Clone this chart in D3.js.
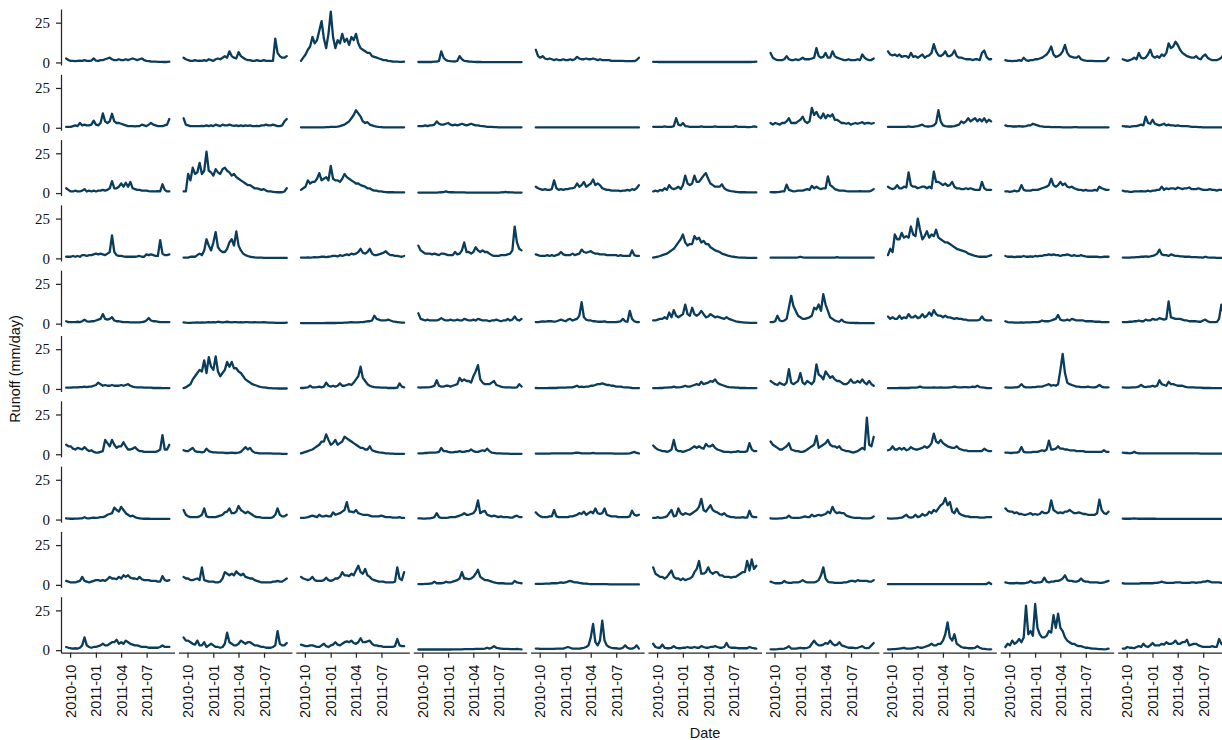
<!DOCTYPE html>
<html>
<head>
<meta charset="utf-8">
<script src="https://cdn.jsdelivr.net/npm/d3@7"></script>
<style>
  body { margin: 0; background: #fff; }
  svg { display: block; }
</style>
</head>
<body>
<svg id="chart"></svg>
<script>
const startDay = "2010-09-17";
const endDay = "2011-09-20";
const monthTicks = ["2010-10", "2011-01", "2011-04", "2011-07"];
const yTicks = [0, 25];

// runoff (mm/day), one array per grid row, ten series per row
const row1 = [
  [2.5,1.5,1,1,0.8,1,1.2,1,1.5,1,1,1.2,2.5,1.2,1,1.5,1.5,2,2.5,3,2,1.5,1.5,2,1.5,1.5,2,1.5,2,2.5,2,1.5,2,2.5,1.5,1,0.8,0.6,0.5,0.5,0.4,0.4,0.3,0.3,0.3,0.5],
  [3,2,1.5,1,1,1.5,1,1.2,1,1.5,1,2,1.5,1,2,2.5,2,3,4,3,7,4,3,2.5,6.5,4,3,2,1.5,1.5,1,1,1.5,1,1,1.5,1,1,1,1,15,6,4,3,3,4],
  [1,3,5,8,10,16,12,14,20,26,15,9,18,32,16,9,14,12,18,13,15,11,16,14,18,12,9,8,7,6,6,4,3.5,3,2.5,2,1.5,1.5,1,0.8,0.6,0.5,0.5,0.4,0.4,0.5],
  [0.3,0.3,0.3,0.3,0.3,0.3,0.3,0.5,0.5,1,7,3,1.5,1,0.8,0.7,0.6,1,4,2,1,0.8,0.6,0.5,0.4,0.3,0.3,0.3,0.2,0.2,0.2,0.2,0.2,0.2,0.2,0.2,0.2,0.2,0.2,0.2,0.2,0.2,0.2,0.2,0.2,0.2],
  [8,4,3,4,2.5,2,2.5,2,1.5,2,1.5,1.5,2,1.5,1.5,2,1.5,2,3.5,2.5,2,2,2.5,2,2,2.5,2,1.5,2,1.5,1.5,1.5,1.5,1,1,1,1,1,1,0.8,0.8,0.8,0.8,0.8,1.5,3],
  [0.4,0.4,0.3,0.3,0.3,0.3,0.3,0.3,0.3,0.3,0.3,0.3,0.3,0.3,0.3,0.3,0.3,0.3,0.3,0.3,0.3,0.3,0.3,0.3,0.3,0.3,0.3,0.3,0.3,0.3,0.3,0.3,0.3,0.3,0.3,0.3,0.3,0.3,0.3,0.3,0.3,0.3,0.3,0.3,0.4,0.5],
  [6,3,2,1.5,1.5,1.5,2,4,2,1.5,1.5,2,1.5,2,3,2,2,2,2.5,3,9,4,3,3.5,6,3,3,7,4,3,2.5,2,1.5,1.5,2,1.5,1.5,1.5,2,1.5,5,3,2,1.5,1.5,2.5],
  [7,5,4.5,5,4,5,3.5,4,4,3,6,3.5,4,3,4,5,3,4,4.5,6,11.5,7,4.5,4,5,7,4,4,5,7.5,4,3,3,2.5,2,2,2,1.5,2,2,1.5,6,7.5,3.5,2,2],
  [1.5,1,1,0.8,1,1,1.5,1,3,1.5,1,1.5,1.5,2,2,2.5,3,4,5,7,10,5,3.5,4,5,7,11,6,4,3.5,3,3,4,2,1.5,1.2,1,1,1,0.8,0.8,0.8,0.8,0.8,1.2,3],
  [2,1.5,1,1.5,2,3,2,6,3,2.5,3,5,8,4,3,4,3,5,4,6,12,9,10,13,11,8,6,5,4,3.5,3,3,4,2.5,2,4,5,3,2,1.5,1.5,1.5,2,3,5,8]
];
const row2 = [
  [0.5,0.5,0.5,1,1.5,1,3,1.5,2,1.5,1.5,2,4.5,2,1.5,3,9,4,3,4,8.8,4,3,3,2.5,2,1.5,1,1,1,0.8,1,1,2,1.5,1,2,3,2,1.5,1,1,1,1.5,2,5.5],
  [6,2,1.5,1,1,1,1,1,1.2,1,1.5,1,1.5,1,2,1.5,1,2,1.5,1.5,2,1.5,1.2,1.5,1,1.5,1,1.5,1.2,1.5,1,1,1.2,1,1.5,1.5,2,1.5,1.5,2,1.5,1,1,1.5,4,5.5],
  [0.3,0.3,0.3,0.3,0.3,0.3,0.3,0.3,0.3,0.3,0.3,0.4,0.4,0.5,0.5,0.6,0.7,1,1.5,2,3,4,6,8,11,9,7,4,3,3.5,2,1.5,1,0.7,0.5,0.4,0.3,0.3,0.3,0.3,0.3,0.3,0.3,0.3,0.3,0.3],
  [1,1,1,1.5,1,1.5,1.5,2,4,2.5,2,2,2.5,3,2,1.5,2,1.5,2,2.5,2,1.5,2,2.5,2,1.5,1.5,1.2,1,0.8,0.6,0.5,0.5,0.4,0.4,0.3,0.3,0.3,0.3,0.3,0.3,0.3,0.3,0.3,0.3,0.3],
  [0.2,0.2,0.2,0.2,0.2,0.2,0.2,0.2,0.2,0.2,0.2,0.2,0.2,0.2,0.2,0.2,0.2,0.2,0.2,0.2,0.2,0.2,0.2,0.2,0.2,0.2,0.2,0.2,0.2,0.2,0.2,0.2,0.2,0.2,0.2,0.2,0.2,0.2,0.2,0.2,0.2,0.2,0.2,0.2,0.2,0.2],
  [0.6,0.6,0.5,0.5,0.6,0.8,0.6,0.5,0.6,1,6,2,1.5,3,1,0.8,0.6,0.6,0.5,0.5,0.6,0.8,0.6,0.5,0.5,0.6,0.5,0.8,0.6,0.5,0.5,0.5,0.5,0.6,0.5,0.5,1,0.5,0.5,0.5,0.5,0.4,0.4,0.5,0.8,0.5],
  [3,2,3,2.5,2,3,3,4,6,3,3,3,4,5,7,4,3,4,12.5,8,10,7,6,9,6,8,7,8.5,5,5,4,3,3,2.5,3,2,2.5,3,2.5,3,3.5,2.5,3,3,2.5,3],
  [0.5,0.5,0.5,0.5,0.5,0.6,0.5,0.5,0.6,0.8,0.6,0.6,0.8,1,1.5,2,1,0.8,0.8,1,1.5,3,11,4,1.5,1,0.8,0.8,0.8,1,1.5,2,4,3,4,6,4,5,6,4,5.5,4,6,3.5,5,4],
  [1.5,1,1,0.8,0.8,0.8,1,0.8,0.8,1,1.5,1.5,2.5,2,1.5,1,0.8,0.6,0.5,0.5,0.4,0.4,0.4,0.4,0.4,0.3,0.3,0.3,0.3,0.3,0.4,0.4,0.3,0.3,0.3,0.3,0.3,0.3,0.3,0.3,0.3,0.3,0.3,0.3,0.3,0.3],
  [1,0.8,0.8,0.6,0.8,1,1,1.5,2,1.5,7,3,2.5,5,2.5,2,1.5,2,2.5,1.5,2,1.5,1.5,1.2,1.5,1.2,1,1,1,0.8,0.6,0.5,0.5,0.4,0.4,0.3,0.3,0.3,0.3,0.3,0.3,0.3,0.3,0.3,0.3,0.3]
];
const row3 = [
  [3,2,1,1,1.5,1,1,1.5,2.5,1,1.5,1,1.5,1,1.5,1.5,2,1.5,2,3,7.5,3,3,4,6,4,6.5,4,7,3,2.5,2,2,1.5,1.5,1.5,1.2,1,1,1,1.2,1,5.5,2,1,1],
  [1,1,12,8,16,12,13,19,12,14,26,14,13,11,15,13,12,15,16,14,13,11,12,10,9,8,7,6,5,5,4,3,3,2.5,2,2.5,1.5,1,1,0.8,0.6,0.5,0.5,0.5,1,3],
  [2,3,4,8,6,7,7,9,12.5,8,9,10,8,17,9,8,8,7,9,12,10,9,8,7,6,6,5,4.5,4,3,3,2,1.5,1.5,1,1,0.8,0.6,0.5,0.5,0.5,0.4,0.4,0.4,0.4,0.4],
  [0.3,0.3,0.3,0.3,0.3,0.3,0.3,0.3,0.3,0.4,0.5,0.6,1,0.6,0.5,0.5,0.4,0.4,0.4,0.4,0.4,0.3,0.3,0.3,0.3,0.3,0.3,0.3,0.3,0.3,0.3,0.3,0.3,0.3,0.3,0.3,0.4,0.5,0.8,0.5,0.4,0.4,0.3,0.3,0.3,0.3],
  [4,3,2.5,2,2.5,2,2,2.5,8,3,2,2.5,2,2.5,2.5,3,3,3.5,6,4,5,7,4,5,6,8.5,5,6,5,3,2.5,2,2,1.5,1.5,1.5,1.5,1.2,1.5,1.5,2,1.5,2.5,2,3,5],
  [1,1.5,1,2,1.5,3,2,5,3,2.5,3,4,2.5,5,11,6,5,6,11,7,7,9,11,12.5,9,6,5,4,4,4,5.5,3,2,1.5,1.2,1,0.8,0.6,0.5,0.5,0.5,0.4,0.4,0.4,0.4,0.4],
  [0.6,0.5,0.5,0.6,0.8,1,1,5.3,2,1.5,1,1.2,1.5,1.5,1.5,2,2.5,2,4.5,3,4,3,2.5,3,3,10.5,5,4,2.5,2,1.5,1.5,1.5,1.2,1,1,1,1,1,1.2,1,1,1,1,1.5,2.5],
  [4,3,2.5,3,5,3,3,4,3.5,13,5,4,4,3,3.5,4,4,3,4,3,13.5,7,7,6,5,6,4.5,5,7,4,3,3,2.5,2.5,3,2.5,3,2.5,2,2,2,7,3,2,2,2],
  [1,1,0.8,1,1.5,1,1.5,5,2,1.5,1.5,1.5,2,2,2,2.5,3,3.5,4,5,9,5,4,5,7,5,6,4,3.5,4,3,2.5,2,2,1.5,2,1.5,1.5,1.5,2,1.5,4,3,2.5,2,2],
  [1.5,1,1,0.8,0.8,1,1,1,1.2,1,1,1.5,1,1.5,1.5,2,2,4,2,3,2.5,3,3,2.5,3.5,3,2.5,3,3,3.5,2.5,2.5,2.5,3,2.5,2,2,2,2.5,2,2,1.5,2,2,2,2]
];
const row4 = [
  [1,1,1,1.5,1,1.5,1,2,2,1.5,2,2,2.5,3,2.5,3,2.5,2,3,4,14.5,4,2,1.5,1.5,1.2,1,1,1,1,1,1.2,1.5,1,1,2.5,2,2.5,2,1.5,1.5,11.5,3,2,2,2.5],
  [0.5,0.5,0.5,1,1,1,2,3,2,5,12,8,5,10,16.5,7,5,4,4,6,10,12,8,17,8,5,3,2,1.5,1,0.8,0.6,0.5,0.5,0.4,0.3,0.3,0.3,0.3,0.3,0.3,0.3,0.3,0.3,0.3,0.3],
  [0.5,0.5,0.5,0.6,0.5,0.6,0.8,0.6,0.8,1,1,0.8,1,1.2,1.5,1.5,1.2,2,1.5,2,2.5,2,3,2.5,3,4,6,3.5,3,4,6,3,2,2,2.5,3,3.5,4.5,3,2,2,1.5,1.5,1.2,1,1.5],
  [8,5,4,3,3,3,2.5,3,2.5,2,3,3,2.5,2,2,2,4,2.5,3,5,10,4,4,3,4,7,5,4,5,4,4,3,2,1.5,1.5,1.5,2,2,2,2.5,3,5,20,10,6,5],
  [2.5,2,1.5,1.5,1.5,2,1.5,2,1.5,2,2.5,4,2.5,2,2,2,3,2,2.5,3,5.5,4,3.5,4,4.5,3.5,3,3,2.5,2.5,2.5,2,2,2,2,2,1.5,2,1.5,1.5,1.5,1.5,5,2,1.5,1.5],
  [0.5,0.8,1,1.5,2,2.5,3,4,5,6,8,10,12,15,10,8,9,9,14,12,13,10,11,9,9,7,6,5,4.5,4,3,2.5,2,1.5,1.2,1,0.8,0.6,0.5,0.4,0.4,0.3,0.3,0.3,0.3,0.3],
  [0.4,0.4,0.4,0.4,0.4,0.4,0.4,0.4,0.4,0.4,0.5,0.5,0.6,1,0.6,0.5,0.5,0.4,0.4,0.4,0.4,0.4,0.4,0.4,0.4,0.4,0.4,0.4,0.5,0.8,0.5,0.4,0.4,0.4,0.4,0.4,0.4,0.4,0.4,0.4,0.4,0.4,0.4,0.4,0.4,0.4],
  [2,6,4,15,12,12,16,13,14,13,20,15,14,25,18,12,14,17,13,15,14,18,13,12,11,10,10,9,8,7,6,5.5,5,4.5,4,3,2.5,2,1.5,1.2,1,1,1,1,1.5,2],
  [1.5,1,1,1,0.8,1,1,1,1.5,1,1,1.2,1,1.5,1.2,1.5,1.5,2,2,2.5,2,2.5,2,2,1.5,2,2,2.5,2,1.5,2,1.5,1.5,2,1.5,1.2,1,1,1,1,1,0.8,0.8,1,1,1],
  [0.5,0.5,0.5,0.5,0.6,0.6,0.8,0.8,1,1,1.2,1,1.2,1.5,2,3,5.5,2.5,2,2,1.5,2.5,2,1.5,1.5,1.2,1.2,1,1,1,0.8,0.8,0.8,0.6,0.6,0.5,1,0.6,0.5,0.4,0.4,0.3,0.3,0.3,0.3,0.3]
];
const row5 = [
  [1.5,1,1,1,1,1.2,1,1.5,2.5,1.5,1.2,1.5,1.5,2,2.5,3,6,3,2.5,3,4,2,1.5,1.5,1.2,1,1,1,0.8,0.8,0.8,0.8,0.8,1,1.2,2,3.5,2,1.5,1.5,1.2,1,1,1,1,1],
  [0.8,0.6,0.5,0.5,0.6,0.6,0.8,0.6,0.8,0.6,0.8,1,0.8,1,0.8,1.2,1,0.8,1,1.2,1,0.8,1,1,0.8,1,0.8,1,1,0.8,0.8,1,0.8,0.8,0.8,1,0.8,0.6,0.6,0.6,0.5,0.5,0.5,0.5,0.5,0.6],
  [0.3,0.3,0.3,0.3,0.3,0.3,0.3,0.3,0.3,0.3,0.3,0.4,0.4,0.4,0.4,0.4,0.5,0.5,0.5,0.6,0.6,0.8,1,0.8,0.8,0.8,1,1,1.2,1.5,1.5,2,5,3,2.5,2,2,2,2.5,2,1.5,1.2,1,0.8,0.6,0.6],
  [6.5,3,2.5,2,2.5,2,2,2,2,2.5,3.5,2.5,2,2,2.5,2,2,2.5,2,2,3,2.5,2,2,2.5,2,3,2.5,2,2,2,1.5,2,2,2.5,2,1.5,2,2,3,2,2.5,4.5,2.5,2,3],
  [1,1,1.2,1.5,1.2,1.5,1.5,1.5,1.2,1.5,2,2.5,2,1.5,2.5,3,2,2.5,3,5,13.5,4,2.5,2,2,1.5,1.5,1.2,1.2,1.2,1.5,1,1,1,1,1,1.2,1.5,3,1.5,1.2,8,3,1.5,1,1],
  [2,2,2.5,3,3,4,3,7,4,8.5,5,4,5,6,12,6,5,10,6,5,6,8,6,4,4.5,6,5,4,4.5,4,3.5,3,4,3,2.5,2,1.5,1.2,1,0.8,0.6,0.6,0.5,0.5,0.5,0.5],
  [1,1,1.5,5,2,1.5,2,3,10,17.5,11,8,5,4,3,3,3.5,4,5,10,9,12,8,18.5,12,8,4,3,2,1.5,1.2,2.5,1.2,0.8,0.6,0.5,0.5,0.4,0.4,0.3,0.3,0.3,0.3,0.3,0.3,0.3],
  [4.5,3,4,3,3,5,3,4,3.5,6,4,4,5,3.5,4,6,4,5,7,5,8.5,6,5,5,4,5,4,4,3.5,3,3.5,3,3,2.5,2.5,2,2,2,2,2,2.5,4.5,2.5,2,2,2],
  [1.5,1,0.8,0.8,0.6,0.6,0.6,0.8,0.6,0.8,0.8,0.8,1,1,1,1.2,2,1.5,1.5,1.5,2,2.5,3,5.5,2.5,2,2,2.5,2,3,2.5,2,2,2,2,1.5,1.5,1.5,1.5,1.2,1.2,1.2,1,1,1,1],
  [1,1,1,1.2,1.2,1.5,1.5,2,1.5,1.5,2.5,2,2,3,2.5,2.5,3.5,3,2.5,3,14,4,3.5,3,3,3,2.5,2,2,1.5,1.5,1.5,1.5,1.2,1.2,2,2.5,1.5,1,1,1,1,3,12,6,3]
];
const row6 = [
  [0.8,0.8,0.8,1,1,1,1.2,1.2,1.5,1.2,1.5,1.5,2,2.5,4,3,2,2.5,2,2,2.5,2,2,2,2.5,2,2.5,3,2,1.5,1.2,1,1,1,0.8,0.8,0.8,0.8,0.6,0.6,0.6,0.6,0.5,0.5,0.5,0.5],
  [0.5,1,2,3,6,8,10,12,11,18,10,20,14,12,20.5,11,8,10,12,17,14,17,13,13,11,10,8,6,5,4,3,2.5,2,1.5,1.2,1,0.8,0.6,0.5,0.4,0.4,0.3,0.3,0.3,0.3,0.3],
  [0.6,0.6,0.8,1,2,1,1,1.2,1.5,1,1.5,4,2,1.5,2,1.5,2,3.5,2,2,2.5,3,2.5,4,6,8,14,7,5,3,2,1.5,1.2,1,1,0.8,0.8,0.8,0.6,0.6,0.6,0.6,0.8,3.5,1.5,1],
  [1,0.8,1,1,1,1.2,1.5,2,5.5,2,1.5,1.5,2,2,1.5,2,2.5,3,7,5,6,5,5,4,8,11,15,6,4,3,3,3,4,5,2.5,2,1.5,1.2,1,1,1,0.8,0.8,1,3,1.5],
  [0.6,0.5,0.5,0.5,0.5,0.5,0.6,0.6,0.6,0.6,0.8,0.8,0.8,0.8,1,1,1,1.5,2,1.2,1.5,1.2,1.5,1.5,2,2,2.5,3,3,3.5,3,2.5,2.5,2,2,1.5,1.5,1.5,1.2,1,1,0.8,0.6,0.5,0.5,0.5],
  [0.5,0.5,0.5,0.6,0.6,0.8,0.8,1,1,1.5,1,1,1.2,1.5,2,1.5,1.5,2,2.5,3,2.5,4.5,3,3.5,4,5,4.5,6,4,3,2.5,2,1.5,1.2,1,1,0.8,0.8,0.6,0.6,0.6,0.5,0.5,0.5,0.5,0.5],
  [5,4,3,2.5,4,3,2.5,4,12.5,4,3,4,5,10,4,3,5,4,3,5,15.5,9,8,6,11,9,7,8,6,5,5,4,3,3,4,6,4,4,5,4,6,4,3,5,3,2],
  [0.5,0.5,0.5,0.5,0.5,0.6,0.6,0.6,0.6,0.6,0.8,0.8,0.8,1,1.5,1,0.8,0.8,0.8,0.8,1,0.8,0.8,1,0.8,0.8,0.8,1,1.2,1.5,1.2,1,1,1.2,1.2,1,1.2,1.5,1.2,2,1.2,1,0.8,0.6,0.5,0.5],
  [1,0.8,0.8,0.8,1,1,1.5,3,1.5,1,1,1,1.2,1.2,1.5,1.5,1.5,2,2.5,3,2,2.5,2,3,12,22,10,4,3,2.5,2,1.5,1.5,1.2,1.2,1.2,1.5,1.2,1,1,1.5,2.5,1.5,1,1,1],
  [1,0.8,0.8,0.8,1,1,1.2,1.5,2.5,1.5,1.2,1.5,1.5,2,1.5,2,5.5,3,2.5,2,4.5,3,3,2.5,2,2,2,1.5,1.2,1,1,1,0.8,0.8,0.8,0.6,0.6,0.6,0.6,0.5,0.5,0.5,0.5,0.5,0.5,0.5]
];
const row7 = [
  [6,5,5,3.5,3,4,3.5,3,4.5,3,2,2.5,1.5,1,1,1.5,2,9,7,5,9,6,4,5,5,7.5,5,3,3,3.5,4.5,3,2,2,1.5,1.5,1.5,1.5,1.5,1.5,2,3,12,3,3,6],
  [2.5,2,2,3,4,2,1.5,1.5,1.2,1.5,3.5,2,1.5,1.2,1.2,1,1,1,0.8,0.8,0.8,1,0.8,0.8,1,1.5,3,4.5,3,4,2,1,0.8,0.6,0.5,0.5,0.5,0.5,0.5,0.4,0.4,0.4,0.4,0.3,0.3,0.3],
  [0.5,1,1.5,2,2.5,3,4,5,6,8,8,12.5,9,6,7,9,6,7,8,11,10,9,8,7,6,5,4,4,3,3,5,2.5,2,1.5,1.2,1,0.8,0.6,0.5,0.4,0.4,0.3,0.3,0.3,0.3,0.3],
  [0.6,0.6,0.6,0.8,0.8,1,1,1,1.2,1.5,4,2,2,1.5,1.2,1.2,1.5,1.5,2,1.5,1.5,2,2,3,2,1.5,1.5,2,2.5,2,3.5,2,1,0.8,0.6,0.5,0.5,0.4,0.4,0.4,0.3,0.3,0.3,0.3,0.3,0.3],
  [0.4,0.4,0.4,0.4,0.4,0.4,0.4,0.5,0.5,0.5,0.5,0.5,0.5,0.5,0.5,0.6,0.6,0.8,1,0.8,0.6,0.6,0.6,0.6,0.6,0.8,0.6,0.6,0.6,0.5,0.5,0.5,0.5,0.5,0.4,0.4,0.4,0.4,0.4,0.4,0.4,0.5,1,1.5,0.8,0.5],
  [5.5,4,3,2.5,2,2,1.5,2,3,9,3,2,2,1.5,2,2.5,3,4,5,4,5,4,3.5,6.5,5,5,6,4,3,2.5,2,1.5,1.5,1.5,1.2,1.5,1.5,2,1.5,1.5,1.5,2,7,3,2,2],
  [8,6,5,4,3,3,4,5,7,3,2.5,2,2,1.5,1.5,2,3,4,5,6,11.5,4,5,6,7,9,6,5,5,4,5,3,2.5,2,2,1.5,1,1.5,2,3,4,3,23,6,5,11],
  [2.5,3,5,3,3,4,3,4,2.5,3,4.5,3.5,3,3,3.5,4,5,4,5,7,13,8,7,9,7,6,5,4.5,4,4,5,3.5,3,2.5,2.5,2,2,2,2,2,2,2,3.5,2.5,2,2],
  [1,1,0.8,0.8,1,1,1.5,4.5,1.5,1.2,1.2,1.2,1.5,1.5,1.5,2,2.5,2,3,8.5,3,3,3.5,5,3.5,3.5,3,3,2.5,2.5,2.5,2,2,2,2,1.5,1.5,1.5,1.5,1.5,1.5,1.5,1.5,2.5,1.5,1.5],
  [1,0.8,0.8,0.6,0.8,1.5,0.8,0.6,0.6,0.5,0.5,0.5,0.5,0.5,0.5,0.6,0.5,0.5,0.5,0.5,0.6,0.5,0.5,0.5,0.5,0.6,0.5,0.5,0.5,0.5,0.5,0.5,0.5,0.5,0.4,0.4,0.4,0.4,0.4,0.4,0.4,0.4,0.4,0.4,0.4,0.4]
];
const row8 = [
  [0.8,0.6,0.5,0.5,0.6,0.6,0.8,0.8,1.5,0.8,0.8,1,1.2,1,1.2,1.5,1.5,2,3,3.5,4,7.5,6,5,8,6,4,3,2,2.5,1.5,1,0.8,0.6,0.5,0.5,0.5,0.4,0.4,0.4,0.4,0.4,0.4,0.4,0.4,0.4],
  [6,3,2,1.5,1.5,1.5,1.5,2,3,7,2,1.5,1.5,1.5,1.5,2,2.5,3,4.5,5,7,4,4,5,8.5,6,5,4,5,4,3,2,1.5,1.5,1.2,1,1,1,1,1.5,3,7,3,2,2,3],
  [1,1,1.2,1.5,2,2.5,2,1.5,3,2,2,2.5,2,2,4.5,3,3.5,4,5,6,11,5,5,4.5,6,4,3.5,3,3,3,2.5,2,2,2,2,2.5,2,1.5,1.5,1.5,1.2,1.2,1.2,1.5,1,1],
  [0.8,0.8,0.6,0.6,0.8,0.8,1,1.5,4,1.5,1,1,1,1.2,1.5,1.5,1.5,2,2.5,3,4,3,3,3.5,4,6,12,4,5,5.5,3,2.5,2,2.5,2,1.5,2,1.5,1.5,1.5,1.2,1.2,2,2.5,1.5,1.5],
  [4.5,3,2,1.5,1.5,1.5,2,2,6,2,1.5,1.5,1.5,1.5,1.5,2,2,2.5,3,4,3.5,5,3,4,5,4,7,4,3.5,4,7,3,2.5,2,2,2,1.5,1.5,1.5,1.5,1.5,2,5.5,3,2.5,3],
  [1,1,1.5,1,1.2,1.5,2,4,6,2,2.5,7,4,3,4,3.5,3,4,5,6,8,13,6,5,7,9,6,5,4.5,3.5,3,4,2.5,2,1.5,1.5,1.2,1.2,1.2,1.5,1.2,1.2,5.5,2,1.5,1.5],
  [0.8,0.6,0.6,0.6,0.8,0.8,1,1.2,2.5,1.2,1,1,1,1.2,1.5,2,1.5,1.5,3,2,2.5,3,2.5,3,3.5,5,4,8,5,4,4.5,4,4,2.5,2,1.5,1.2,1,1,1,0.8,0.8,0.8,0.8,1,2],
  [0.8,0.6,0.6,0.8,0.8,1,1.2,2,3,1.5,1.2,1.5,3,1.5,2,3.5,2.5,3,5,4,6,5,7,9,10,13.5,9,11,5,4,7,4,3,2.5,2,2,1.5,1.5,1.5,1.5,1.2,1.2,1.2,1.5,1.5,1.5],
  [7,5.5,5,5,4,4.5,3.5,3.5,3,3,3.5,4,3,3.5,3,3.5,5,4,4,5,12,6,5,4,4.5,4,5,5,6,5,4,4,4.5,4,3.5,3.5,3,3,3,3,4,12.5,6,4,3.5,5],
  [0.6,0.5,0.5,0.5,0.6,0.8,0.6,0.5,0.5,0.5,0.5,0.5,0.5,0.5,0.5,0.4,0.4,0.4,0.4,0.4,0.4,0.4,0.4,0.4,0.4,0.4,0.4,0.4,0.4,0.4,0.4,0.4,0.4,0.4,0.4,0.4,0.4,0.4,0.4,0.4,0.4,0.4,0.4,0.4,0.4,0.4]
];
const row9 = [
  [2.5,2,1.5,1.5,1.5,2,2.5,5,2.5,2,1.5,2,2.5,3,3,2.5,3,2.5,3.5,5,4,4,3.5,5,4,6,5,6,4.5,4,4,3.5,5,3.5,3,3,3,2.5,2.5,2.5,2,2,5.5,3,2.5,3],
  [5,4,4,3,3,3.5,4,3,11,3,2.5,2,2,2,1.5,1.5,2,4,8,7,6,7,6,8.5,7,6,7,5,4.5,4,4,3,2.5,2,1.5,1.5,1.5,1.5,1.5,2,2,2.5,2,2,3,4],
  [5,4,3.5,3,3.5,5,3,2.5,2.5,2.5,3,4.5,3,2.5,3,4,4,5,8,6,6,5.5,7,6,9,12,8,7,10,6,5,3.5,3,2.5,2,2,2,1.5,1.5,1.5,1.5,2,11,4,3,8],
  [0.5,0.5,0.5,0.6,0.6,0.8,1,2,1,1,1,1.2,2,1.5,1.5,2,2.5,3,4,8,4,4,3.5,4,5,7,9.5,5,4,3,3,2.5,2,1.5,1.2,1,1,1,0.8,0.8,0.8,0.8,2.5,1.5,1.2,1],
  [0.6,0.6,0.6,0.6,0.8,0.8,0.8,1,1,1,1.2,1.5,1.2,1.5,2,2.5,2,1.5,1.5,1.2,1,0.8,0.8,0.6,0.5,0.5,0.4,0.4,0.4,0.4,0.4,0.4,0.3,0.3,0.3,0.3,0.3,0.3,0.3,0.3,0.3,0.3,0.3,0.3,0.3,0.3],
  [11,7,6,5,5,4,5,7,9,5,4,4,3,4,3,3.5,4,5,8,10,15,7,7,8,11,8,7,8,8,6,6,5,5,5,4.5,5,5,6,7,8,8,15,9,16,10,12],
  [2,1.5,1,1,1,1.2,2.5,1.5,1.2,1.2,1.5,1.5,1.5,2,3,2,1.5,1.5,1.5,1.5,2,3,6,11,4,2,1.5,1.5,1.2,1.2,1.2,1.2,1.5,1.5,2,2.5,2.5,2,3,2.5,2.5,2.5,2.5,2,2,3],
  [0.4,0.4,0.4,0.4,0.4,0.4,0.4,0.4,0.4,0.4,0.4,0.4,0.4,0.4,0.4,0.4,0.4,0.4,0.4,0.4,0.4,0.4,0.4,0.4,0.4,0.4,0.4,0.4,0.4,0.4,0.4,0.4,0.4,0.4,0.4,0.4,0.4,0.4,0.4,0.4,0.4,0.4,0.4,0.5,1.5,0.5],
  [1.5,1.2,1,1,1,1.2,1,1,1,1.2,1.5,2.5,1.5,1.2,1.5,1.5,2,4.5,2,1.5,2,2,2.5,2.5,3,4,6,3,2.5,2.5,2,2,2.5,4,2.5,2,2,1.5,1.5,1.5,1.5,1.2,1.2,1.5,2,2.5],
  [1,0.8,0.8,0.8,0.8,0.8,0.8,0.8,1,1,1,1,1,1,1.2,1.2,1.5,2,1.5,1.2,1.2,1.2,1.2,1.5,1.5,1.5,1.2,1.2,1.2,1.2,1.5,1.5,1.2,1.5,1.5,2,2,2.5,2,1.5,1.5,1.5,1.5,1.2,1.2,1.5]
];
const row10 = [
  [2,1.5,1.2,1,1.2,1,1.5,3,8,3,2,1.5,2,2,2.5,3,4,3,3,4,5,5,6.5,4,5,4,6,5,4,3.5,3,3,2.5,2,2,2,1.5,1.5,1.5,1.5,1.5,2,3,2,2,2],
  [8,6,6,5,4,3.5,6,3,3,5,2,3,4,3,2,2,1.5,2,4,11,5,4,3,3,4,6,5,4,5,5,4,3,3,2.5,2,2,1.5,1.5,1.5,2,3,12,4,3,3,4.5],
  [3.5,3,2.5,2.5,3,3,2.5,2,2,3,4,2.5,2,3,3.5,5,3.5,3,4,5,5.5,5,6,4.5,4,5,7.5,5,5,5.5,6,4,3,3,2.5,2.5,2,2,2,2,2,2.5,7,3,2.5,2.5],
  [0.4,0.4,0.4,0.4,0.4,0.4,0.4,0.4,0.4,0.4,0.4,0.4,0.4,0.4,0.4,0.5,0.5,0.5,0.5,0.5,0.6,0.6,0.6,0.6,0.6,0.8,0.8,0.8,0.8,1,1.5,1,1.5,2.5,1.5,1.2,1,0.8,0.8,0.8,0.6,0.6,0.6,0.8,0.6,0.5],
  [1,1,0.8,0.8,0.8,0.8,0.8,0.8,0.8,1,1,1,1,1.5,2,1.5,1,1,1,1,1.2,1.5,2,3,8,16.5,5,3,6,18.5,6,3,2,1.5,1.2,1.2,1,1,1.5,3,1.5,1,1,1.5,3,1],
  [4,2,1.5,1.5,3.5,1.5,1.2,1.2,1.5,2.5,1.5,1.2,1.2,1.5,1.5,2,1.5,1.5,2,1.5,1.5,2.5,2,1.5,1.5,2,2,2.5,2,1.5,1.5,2,4.5,2,1.5,1.5,1.5,1.2,1.2,1.2,1.2,1.2,2,1.5,1.2,1],
  [0.5,0.5,0.5,0.6,0.8,0.8,1,1.5,2.5,1,1,1,1.2,1.5,1.2,1.2,1.5,2,4,6,4,3,3,3.5,4.5,4,6,4,3,3.5,5,3,2.5,2,1.5,1.5,1.5,1.2,1.5,2,2.5,1.5,1.2,1.5,3,4.5],
  [0.5,0.5,0.6,0.6,0.8,1,1.2,1.5,1,1,1,1.2,1.5,2,1.5,1.5,2,2.5,3,4,3,3,4,4,6,10,17.5,8,6,10,4,3,2,1.5,1.5,1.2,1.2,1.2,1.5,2.5,1.5,1,0.8,0.6,0.5,0.5],
  [2,4,3,6,4,5,7,5,8,28,10,12,9,29,14,10,8,8,9,12,11,22,14,23,14,12,8,6,5,4,4,3,2.5,2.5,2,1.5,1.5,1.2,1,1,0.8,0.6,0.6,0.5,0.6,1],
  [1,1,2,1.5,1.5,1.2,2,2.5,2,4,2.5,2,3,4.5,3,3,3,4,3.5,5,4,4,4.5,6,4,4,5,5,6.5,3,3.5,4,4,3,2.5,2,2,2,2,2.5,2,2,7,4,3,5]
];
const rows = [row1, row2, row3, row4, row5, row6, row7, row8, row9, row10];

const width = 1222, height = 740;
const gridLeft = 61, gridTop = 9;
const panelW = 113.5, panelH = 56;
const stepX = 117.4, stepY = 65.3;
const lineColor = "#0a3d5c";
const axisColor = "#262626";
const sansFont = "'Liberation Sans', Arial, sans-serif";
const serifFont = "'Liberation Serif', 'Times New Roman', serif";

const parseDay = d3.utcParse("%Y-%m-%d");
const parseMonth = d3.utcParse("%Y-%m");
const t0 = parseDay(startDay), t1 = parseDay(endDay);
const sampleDate = (i, n) => new Date(+t0 + (t1 - t0) * i / (n - 1));

// matplotlib-like 5% margins on both axes, y shared by all panels
const tPad = (t1 - t0) * 0.05;
const x = d3.scaleUtc()
  .domain([new Date(+t0 - tPad), new Date(+t1 + tPad)])
  .range([0, panelW]);

const yMax = d3.max(rows.flat(2));
const y = d3.scaleLinear()
  .domain([-0.05 * yMax, 1.05 * yMax])
  .range([panelH, 0]);

const line = d3.line()
  .x((d, i, arr) => x(sampleDate(i, arr.length)))
  .y(d => y(d));

const svg = d3.select("#chart")
  .attr("width", width)
  .attr("height", height)
  .attr("viewBox", [0, 0, width, height]);

const cells = rows.flatMap((row, r) => row.map((values, c) => ({ r, c, values })));

const panel = svg.append("g")
  .selectAll("g")
  .data(cells)
  .join("g")
  .attr("transform", d => `translate(${gridLeft + d.c * stepX},${gridTop + d.r * stepY})`);

panel.append("path")
  .attr("fill", "none")
  .attr("stroke", lineColor)
  .attr("stroke-width", 2.3)
  .attr("stroke-linejoin", "round")
  .attr("stroke-linecap", "round")
  .attr("d", d => line(d.values));

// left spine + y ticks, first column only
panel.filter(d => d.c === 0)
  .append("g")
  .call(d3.axisLeft(y).tickValues(yTicks).tickSize(5).tickPadding(6).tickSizeOuter(0))
  .call(g => g.select(".domain").attr("stroke", axisColor).attr("stroke-width", 1.25))
  .call(g => g.selectAll(".tick line").attr("stroke", axisColor).attr("stroke-width", 1.25))
  .call(g => g.selectAll(".tick text")
    .attr("fill", "#111")
    .attr("font-family", serifFont)
    .attr("font-size", 15));

// bottom spine + date ticks, last row only
panel.filter(d => d.r === rows.length - 1)
  .append("g")
  .attr("transform", `translate(0,${panelH})`)
  .call(d3.axisBottom(x)
    .tickValues(monthTicks.map(parseMonth))
    .tickFormat(d3.utcFormat("%Y-%m"))
    .tickSize(5)
    .tickSizeOuter(0))
  .call(g => g.select(".domain").attr("stroke", axisColor).attr("stroke-width", 1.25))
  .call(g => g.selectAll(".tick line").attr("stroke", axisColor).attr("stroke-width", 1.25))
  .call(g => g.selectAll(".tick text")
    .attr("fill", "#111")
    .attr("font-family", sansFont)
    .attr("font-size", 14.5)
    .attr("text-anchor", "end")
    .attr("transform", "rotate(-90)")
    .attr("x", -12)
    .attr("y", 0)
    .attr("dy", "0.35em"));

// axis titles
svg.append("text")
  .attr("x", 705)
  .attr("y", 738)
  .attr("text-anchor", "middle")
  .attr("font-family", sansFont)
  .attr("font-size", 14.5)
  .attr("fill", "#111")
  .text("Date");

svg.append("text")
  .attr("transform", "translate(20,369) rotate(-90)")
  .attr("text-anchor", "middle")
  .attr("font-family", sansFont)
  .attr("font-size", 14.5)
  .attr("fill", "#111")
  .text("Runoff (mm/day)");
</script>
</body>
</html>
